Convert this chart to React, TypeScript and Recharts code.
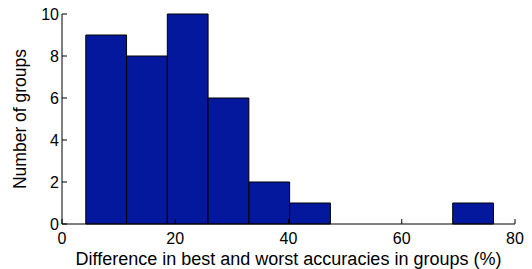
import { ComposedChart, ReferenceArea, XAxis, YAxis, Scatter } from 'recharts';

// histogram bin edges (%) and counts per bin
const binEdges = [4.2, 11.4, 18.6, 25.8, 33.0, 40.2, 47.4, 54.6, 61.8, 69.0, 76.2];
const binCounts = [9, 8, 10, 6, 2, 1, 0, 0, 0, 1];

const xTicks = [0, 20, 40, 60, 80];
const yTicks = [0, 2, 4, 6, 8, 10];

const BAR_FILL = '#03189c';
const FONT = 'Liberation Sans, Arial, sans-serif';

const bins = binCounts.map((count, i) => ({
  lo: binEdges[i],
  hi: binEdges[i + 1],
  mid: (binEdges[i] + binEdges[i + 1]) / 2,
  count,
}));

export default function App() {
  return (
    <div style={{ position: 'absolute', left: 0, top: 0, background: '#fff' }}>
      <ComposedChart
        width={532}
        height={269}
        data={bins}
        margin={{ top: 14, right: 17, left: 0, bottom: 0 }}
      >
        <XAxis
          type="number"
          dataKey="mid"
          domain={[0, 80]}
          ticks={xTicks}
          allowDataOverflow
          height={45}
          tickSize={-5}
          tickMargin={14}
          stroke="#000"
          tick={{ fill: '#000', fontSize: 16, fontFamily: FONT }}
          label={{
            value: 'Difference in best and worst accuracies in groups (%)',
            position: 'insideBottom',
            offset: 4,
            fill: '#000',
            fontSize: 18,
            fontFamily: FONT,
          }}
        />
        <YAxis
          type="number"
          domain={[0, 10]}
          ticks={yTicks}
          width={62}
          tickSize={-5}
          tickMargin={8}
          stroke="#000"
          tick={{ fill: '#000', fontSize: 16, fontFamily: FONT }}
          label={{
            value: 'Number of groups',
            angle: -90,
            position: 'insideLeft',
            offset: 20,
            style: { textAnchor: 'middle' },
            fill: '#000',
            fontSize: 17.5,
            fontFamily: FONT,
          }}
        />
        <Scatter dataKey="count" fill="none" shape={() => null} isAnimationActive={false} />
        {bins
          .filter((b) => b.count > 0)
          .map((b, i) => (
            <ReferenceArea
              key={i}
              x1={b.lo}
              x2={b.hi}
              y1={0}
              y2={b.count}
              fill={BAR_FILL}
              fillOpacity={1}
              stroke="#000"
              strokeWidth={1}
              ifOverflow="visible"
            />
          ))}
      </ComposedChart>
    </div>
  );
}
